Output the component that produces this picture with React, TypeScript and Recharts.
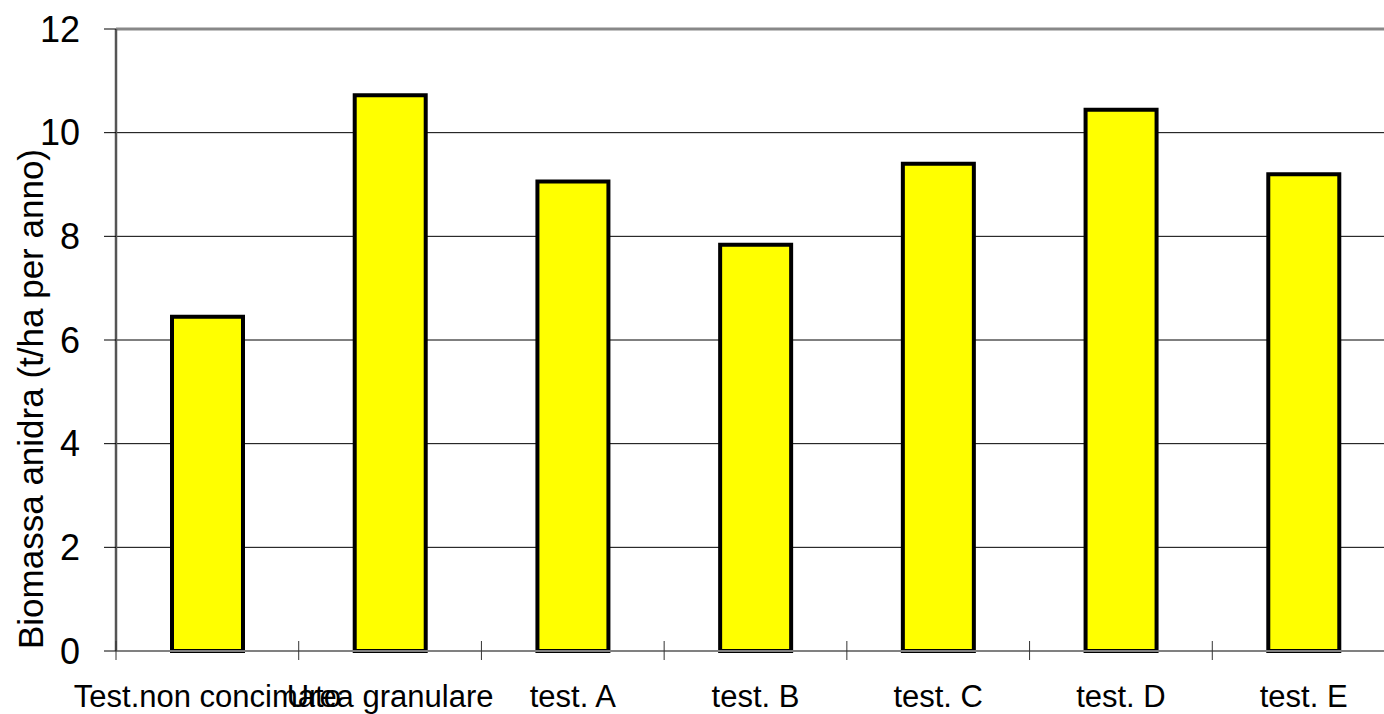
import { BarChart, Bar, XAxis, YAxis, CartesianGrid, ReferenceLine } from "recharts";

const categories = [
  "Test.non concimato",
  "Urea granulare",
  "test. A",
  "test. B",
  "test. C",
  "test. D",
  "test. E",
];
const biomassa = [6.45, 10.72, 9.06, 7.84, 9.4, 10.44, 9.2];
const yTicks = [0, 2, 4, 6, 8, 10, 12];

const FONT = "'Liberation Sans', Arial, sans-serif";

const data = categories.map((name, i) => ({ name, value: biomassa[i] }));

// label at band centre, tick marks at the band edges (crossing the axis line)
function CategoryTick(props: any) {
  const { x, y, payload, index } = props;
  const half = payload && payload.offset ? payload.offset : 91.4;
  const last = index === categories.length - 1;
  return (
    <g>
      <line x1={x - half} x2={x - half} y1={y - 10} y2={y + 9} stroke="#333" strokeWidth={1} />
      {last && (
        <line x1={x + half} x2={x + half} y1={y - 10} y2={y + 9} stroke="#333" strokeWidth={1} />
      )}
      <text x={x} y={y + 56} textAnchor="middle" fontSize={31} fontFamily={FONT} fill="#000">
        {payload.value}
      </text>
    </g>
  );
}

function YTitle(props: any) {
  const vb = props.viewBox || { x: 0, y: 29, width: 116, height: 622 };
  const cx = vb.x + 43;
  const cy = vb.y + vb.height / 2 + 59;
  return (
    <text
      transform={`translate(${cx}, ${cy}) rotate(-90)`}
      textAnchor="middle"
      fontSize={35}
      fontFamily={FONT}
      fill="#000"
    >
      Biomassa anidra (t/ha per anno)
    </text>
  );
}

export default function App() {
  return (
    <div
      style={{
        position: "absolute",
        left: 0,
        top: 0,
        width: 1384,
        height: 714,
        overflow: "hidden",
        background: "#fff",
      }}
    >
      <BarChart
        width={1395}
        height={714}
        data={data}
        margin={{ top: 29, right: 0, left: 0, bottom: 0 }}
      >
        <CartesianGrid vertical={false} stroke="#000" strokeWidth={1} />
        <XAxis
          dataKey="name"
          height={63}
          interval={0}
          axisLine={{ stroke: "#808080", strokeWidth: 2 }}
          tickLine={false}
          tickSize={0}
          tickMargin={0}
          tick={<CategoryTick />}
        />
        <YAxis
          width={116}
          domain={[0, 12]}
          ticks={yTicks}
          interval={0}
          axisLine={{ stroke: "#555", strokeWidth: 2.5 }}
          tickLine={{ stroke: "#000", strokeWidth: 1 }}
          tickSize={12}
          tickMargin={24}
          tick={{ fontSize: 36, fill: "#000", fontFamily: FONT }}
          label={<YTitle />}
        />
        <ReferenceLine y={12} stroke="#888" strokeWidth={3} />
        <Bar
          dataKey="value"
          fill="#FFFF00"
          stroke="#000"
          strokeWidth={4}
          barSize={71}
          isAnimationActive={false}
        />
      </BarChart>
    </div>
  );
}
